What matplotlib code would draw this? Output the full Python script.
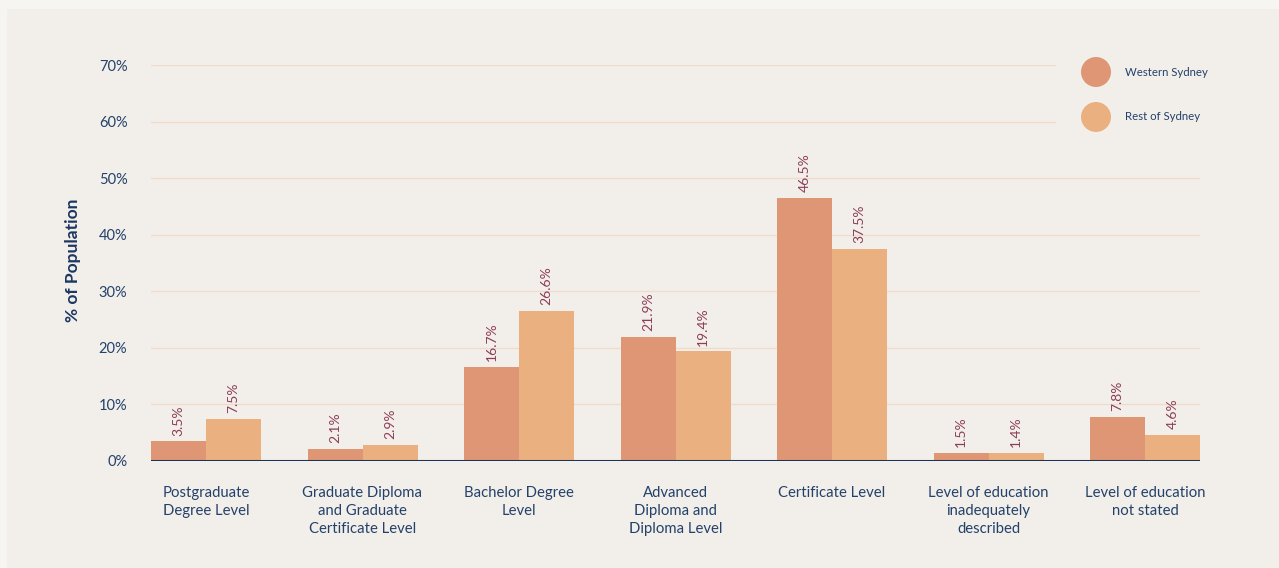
import matplotlib
matplotlib.use("Agg")
import matplotlib.pyplot as plt
from matplotlib.patches import Rectangle, Circle
import numpy as np

categories = [
    "Postgraduate\nDegree Level",
    "Graduate Diploma\nand Graduate\nCertificate Level",
    "Bachelor Degree\nLevel",
    "Advanced\nDiploma and\nDiploma Level",
    "Certificate Level",
    "Level of education\ninadequately\ndescribed",
    "Level of education\nnot stated",
]
western = [3.5, 2.1, 16.7, 21.9, 46.5, 1.5, 7.8]
rest = [7.5, 2.9, 26.6, 19.4, 37.5, 1.4, 4.6]
series_names = ["Western Sydney", "Rest of Sydney"]
yticks = [0, 10, 20, 30, 40, 50, 60, 70]

C_WEST = "#df9675"
C_REST = "#ebb07f"
NAVY = "#23416a"
LABEL = "#8c3d58"
GRID = "#f0dccd"
FONT = ["Lato", "DejaVu Sans"]

plt.rcParams["font.family"] = FONT

W, H = 1279, 568
fig = plt.figure(figsize=(W / 100, H / 100), dpi=100, facecolor="#f7f5f1")
fig.patches.append(Rectangle((7 / W, 0), 1 - 7 / W, 1 - 9 / H, transform=fig.transFigure,
                             facecolor="#f2efea", edgecolor="none", zorder=-10))

ax = fig.add_axes([151 / W, 1 - 461 / H, (1200 - 151) / W, (461 - 65) / H])
ax.set_facecolor("none")
ax.set_zorder(1)

x = np.arange(len(categories))
bw = 55 / 156.5
ax.bar(x - bw / 2, western, bw, color=C_WEST, zorder=2)
ax.bar(x + bw / 2, rest, bw, color=C_REST, zorder=2)

for xi, v in zip(x - bw / 2, western):
    ax.text(xi, v + 1.0, f"{v}%", rotation=90, ha="center", va="bottom",
            color=LABEL, fontsize=10, zorder=3)
for xi, v in zip(x + bw / 2, rest):
    ax.text(xi, v + 1.0, f"{v}%", rotation=90, ha="center", va="bottom",
            color=LABEL, fontsize=10, zorder=3)

ax.set_xlim(-bw, len(categories) - 1 + bw)
ax.set_ylim(0, 70)

# gridlines
for t in yticks[1:]:
    xmax = (1055 - 151) / (1200 - 151) if t >= 60 else 1.0
    ax.axhline(t, xmin=0, xmax=xmax, color=GRID, lw=1.0, zorder=1)
ax.axhline(0, color="#1c3556", lw=2.2, zorder=4)

for s in ax.spines.values():
    s.set_visible(False)

ax.set_yticks(yticks)
ax.set_yticklabels([f"{t}%" for t in yticks])
ax.tick_params(axis="y", length=0, pad=17, labelsize=10.5, labelcolor=NAVY)
ax.set_xticks(x)
ax.set_xticklabels(categories)
ax.tick_params(axis="x", length=0, pad=18, labelsize=10.7, labelcolor=NAVY)
for lab in ax.get_xticklabels():
    lab.set_linespacing(1.35)
    lab.set_va("top")

fig.text(73 / W, 1 - 260 / H, "% of Population", rotation=90, ha="center", va="center",
         color="#1b3660", fontsize=12.5, fontweight="bold")

# legend
for i, (name, c) in enumerate(zip(series_names, [C_WEST, C_REST])):
    cy = 72 + i * 45
    fig.patches.append(Circle((1096, H - cy), 15, transform=None, facecolor=c,
                              edgecolor="none", zorder=5))
    fig.text(1125 / W, 1 - cy / H, name, ha="left", va="center", color=NAVY, fontsize=8.2)

fig.savefig("out.png", dpi=100, facecolor=fig.get_facecolor())
